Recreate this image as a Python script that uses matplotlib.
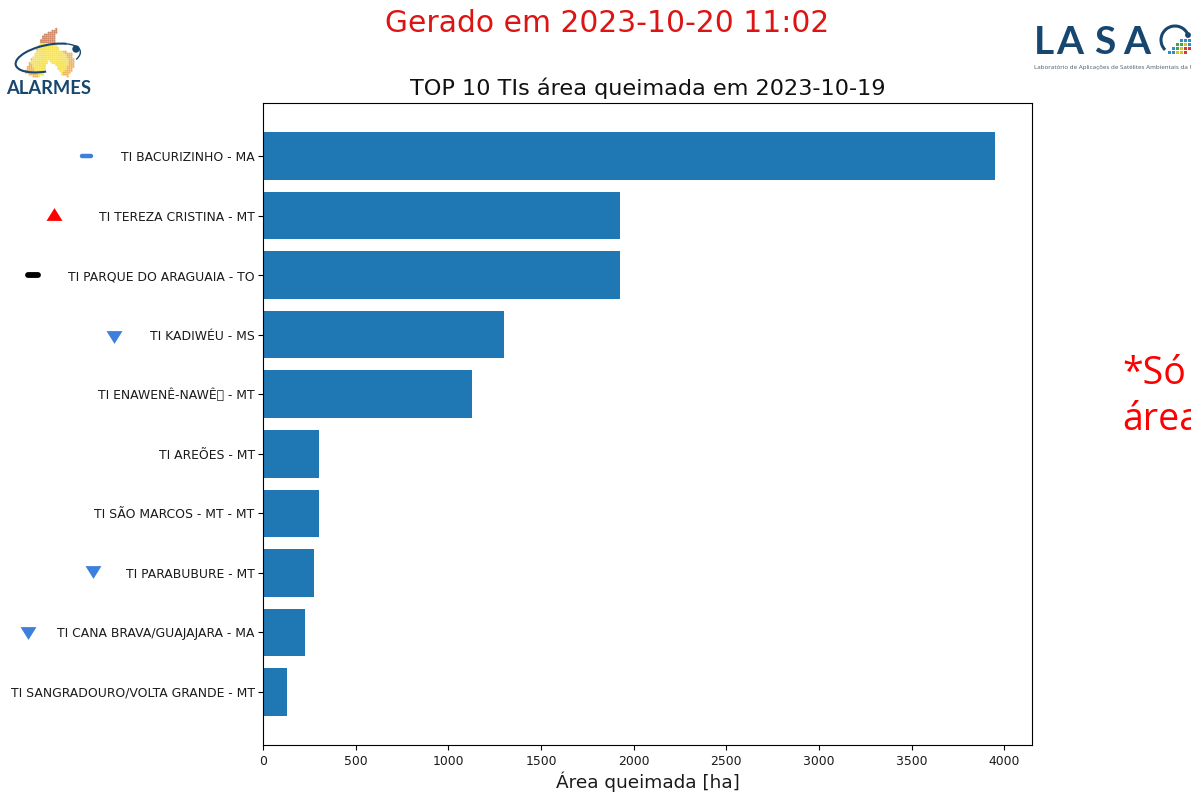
#!/usr/bin/env python3
"""TOP 10 TIs by burned area, with the ALARMES and LASA logos redrawn as shapes."""

import numpy as np
import matplotlib
matplotlib.use('Agg')
import matplotlib.pyplot as plt
from matplotlib.patches import Arc, Circle, Rectangle
from matplotlib.path import Path

# Data
labels = ['TI BACURIZINHO - MA', 'TI TEREZA CRISTINA - MT', 'TI PARQUE DO ARAGUAIA - TO',
          'TI KADIWÉU - MS', 'TI ENAWENÊ-NAWÊ\x81 - MT', 'TI AREÕES - MT',
          'TI SÃO MARCOS - MT - MT', 'TI PARABUBURE - MT',
          'TI CANA BRAVA/GUAJAJARA - MA', 'TI SANGRADOURO/VOLTA GRANDE - MT']
areas = [3950, 1927, 1927, 1301, 1127, 303, 301, 275, 227, 128]

# Trend marks beside the labels: row position, x in hectares (left of the axis), kind
trend_y = [0, 0.97, 2, 3.04, 6.98, 8.01]
trend_x = [-950, -1128, -1241, -804, -918, -1268]
trend_kind = ['dash_blue', 'up', 'dash_black', 'down', 'down', 'down']

title = 'TOP 10 TIs área queimada em 2023-10-19'
generated = 'Gerado em 2023-10-20 11:02'
xlabel = 'Área queimada [ha]'
bar_color = '#1f77b4'
blue = '#3d7fdc'
navy = '#17466e'
text_color = '#1a1a1a'

W, H = 1191, 795
fig = plt.figure(figsize=(W / 100, H / 100), dpi=100)
ax = fig.add_axes([263 / W, 1 - 745 / H, 769 / W, 642 / H])

y = np.arange(len(labels))
ax.barh(y, areas, color=bar_color)
ax.set_yticks(y)
ax.set_yticklabels(labels, fontsize=8.95, color=text_color)
ax.invert_yaxis()
ax.tick_params(axis='x', labelsize=8.95, labelcolor=text_color)
ax.tick_params(axis='y', pad=2.5)
ax.set_xlabel(xlabel, fontsize=13.3, labelpad=3, color=text_color)
ax.set_title(title, fontsize=16.1, pad=5.5, color='#111111')

# Trend marks, triangles a bit flatter than the stock markers
tri_up = [(-1, -0.8), (1, -0.8), (0, 0.8)]
tri_down = [(-1, 0.8), (1, 0.8), (0, -0.8)]
for x, row, kind in zip(trend_x, trend_y, trend_kind):
    if kind == 'up':
        ax.plot([x], [row], marker=tri_up, color='red', markersize=11.5,
                markeredgewidth=0, linestyle='none', clip_on=False)
    elif kind == 'down':
        ax.plot([x], [row], marker=tri_down, color=blue, markersize=11.5,
                markeredgewidth=0, linestyle='none', clip_on=False)
    else:
        c = blue if kind == 'dash_blue' else 'black'
        half = 24 if kind == 'dash_blue' else 28
        lw = 3.2 if kind == 'dash_blue' else 4.2
        ax.plot([x - half, x + half], [row, row], color=c, linewidth=lw,
                solid_capstyle='round', clip_on=False)
ax.set_xlim(0, 4149)

# Overlay in pixel coordinates for the page header and logos
page = fig.add_axes([0, 0, 1, 1], zorder=5)
page.patch.set_alpha(0)
page.axis('off')

page.text(607, 24, generated, color='#dc1414', fontsize=21.4, ha='center', va='center')
page.text(1122, 397, '*Só\nárea', color='red', fontsize=27, family='Open Sans',
          ha='left', va='center', linespacing=1.29, clip_on=False)

# ALARMES logo: flame as a grid of small dots
flame = Path([(57, 28), (43, 35), (38, 48), (28, 65), (25, 73), (37, 78), (43, 75), (48, 60),
              (55, 65), (62, 75), (68, 77), (75, 65), (72, 53), (60, 50), (55, 43), (57, 28)])
gx, gy = np.meshgrid(np.arange(24, 78, 1.9), np.arange(27, 79, 1.9))
gx, gy = gx.ravel(), gy.ravel()
inside = flame.contains_points(np.column_stack([gx, gy]))
gx, gy = gx[inside], gy[inside]
dot_colors = np.where(gy < 43, '#d08a68', np.where(np.abs(gx - 50) + np.abs(gy - 62) * 0.6 < 20,
                                                   '#f6e45a', '#eeb765'))
page.scatter(gx, gy, s=2.6, c=dot_colors, linewidths=0)
page.add_patch(Arc((48, 58), 66, 26, angle=-12, theta1=110, theta2=335, color=navy, lw=1.5))
page.add_patch(Arc((48, 58), 66, 26, angle=-12, theta1=-25, theta2=15, color=navy, lw=1.0))
page.add_patch(Circle((76, 49), 3, color=navy))
page.text(49, 89, 'ALARMES', color=navy, fontsize=13.2, family='Lato', fontweight='bold',
          ha='center', va='center')

# LASA logo
for letter, cx in zip('LASA', [1044, 1070, 1105, 1137]):
    page.text(cx, 43, letter, color=navy, fontsize=28, family='Lato', fontweight='bold',
              ha='center', va='center')
page.text(1034, 67, 'Laboratório de Aplicações de Satélites Ambientais da UFRJ', color='#4a5a6a',
          fontsize=4.5, family='Open Sans', ha='left', va='center')
page.add_patch(Arc((1175, 40), 28, 28, theta1=135, theta2=330, color=navy, lw=2.2))
page.add_patch(Circle((1188, 35), 2.2, color=navy))
square_rows = [
    (1180, 39, ['#2f8fc4', '#2f8fc4', '#2f8fc4']),
    (1176, 43, ['#47a04a', '#47a04a', '#d8c030', '#2f8fc4']),
    (1172, 47, ['#2f8fc4', '#47a04a', '#d8c030', '#d03a30', '#d03a30']),
    (1168, 51, ['#2f8fc4', '#2f8fc4', '#d8c030', '#d8c030', '#d03a30']),
]
for x0, y0, cols in square_rows:
    for i, c in enumerate(cols):
        page.add_patch(Rectangle((x0 + i * 4, y0), 3.4, 3.4, color=c, linewidth=0))

page.set_xlim(0, W)
page.set_ylim(H, 0)

fig.savefig('out.png', dpi=100)
